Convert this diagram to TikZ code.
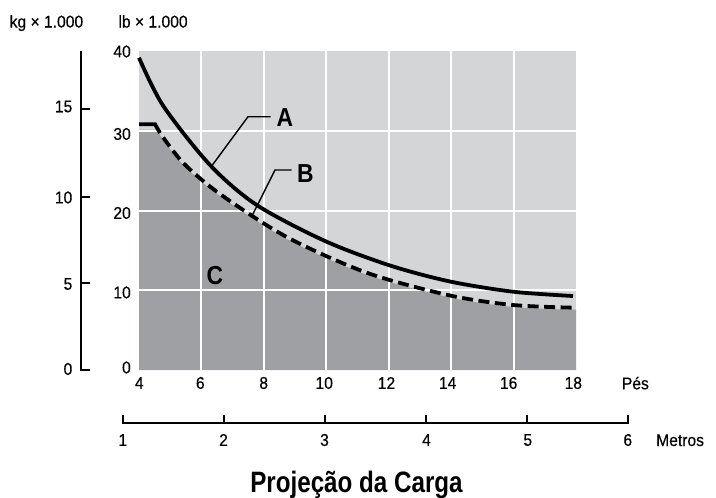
\documentclass[tikz,border=0pt]{standalone}
\usepackage{fontspec}
\setmainfont{Liberation Sans}[FakeStretch=0.92, FakeBold=0.35]
\newfontfamily\condbold{Liberation Sans}[FakeStretch=0.82]
\newfontfamily\letterbold{Liberation Sans}[FakeStretch=0.88]
\definecolor{lightg}{RGB}{212,213,215}
\definecolor{darkg}{RGB}{159,160,164}
\newcommand\lblfont{\fontsize{17}{20}\selectfont}
\newcommand\letterfont{\letterbold\bfseries\fontsize{26}{29}\selectfont}
\newcommand\titlefont{\condbold\bfseries\fontsize{29.5}{32}\selectfont}
\begin{document}
\begin{tikzpicture}[x=1pt,y=-1pt,
  lbl/.style={font=\lblfont, inner sep=0pt},
  letter/.style={font=\letterfont, inner sep=0pt},
  curvea/.style={line width=3.8pt, black},
  curveb/.style={line width=3.8pt, black},
  dashb/.style={line width=3.8pt, black, dash pattern=on 11pt off 5.5pt, dash phase=11pt},
  gridw/.style={white, line width=2pt},
  axisl/.style={line width=2pt, black},
  leader/.style={line width=1.4pt, black}]
\useasboundingbox (0,0) rectangle (716,498);

% plot area
\fill[lightg] (139,51) rectangle (576,370);
\fill[darkg] (139,370) -- (139,129.5) -- (157.5,129.5) -- plot[smooth] coordinates {
  (160,135) (183.3,165) (220,196) (286.7,239) (366.7,274.7) (450,297.5)
  (513,307) (573,309.7)} -- (576,309.7) -- (576,370) -- cycle;

% grid
\foreach \x in {201.4,263.9,326.3,388.7,451.2,513.6}
  \draw[gridw] (\x,51) -- (\x,370);
\foreach \y in {130.7,210.5,290.3}
  \draw[gridw] (139,\y) -- (576,\y);

% curve A
\draw[curvea] plot[smooth] coordinates {
  (139,57.7) (163,105.5) (210,165) (256.7,205) (325,241) (390,265.5)
  (450,281.5) (513,291.7) (573,296)};

% curve B
\draw[curveb] (139,124.2) -- (155,124.2) -- (160,133);
\draw[dashb] plot[smooth] coordinates {
  (160,133) (183.3,163) (220,194) (286.7,237) (366.7,272.7) (450,295.5)
  (513,305) (573,307.7)};

% labels A B C with leaders
\node[letter] (labA) at (285,117.5) {A};
\node[letter] (labB) at (305.5,174) {B};
\node[letter] (labC) at (215,276) {C};
\coordinate (Aend) at (211.7,166);
\coordinate (Aknee) at (248,116.7);
\coordinate (Ahz) at (270.5,116.7);
\coordinate (Bend) at (251.7,216.5);
\coordinate (Bknee) at (275,170);
\coordinate (Bhz) at (291.7,170);
\draw[leader] (Aend) -- (Aknee) -- (Ahz);
\draw[leader] (Bend) -- (Bknee) -- (Bhz);

% unit headers
\node[lbl, anchor=base west] (kgh) at (9.5,27.5) {kg × 1.000};
\node[lbl, anchor=base west] (lbh) at (118.3,27.5) {lb × 1.000};

% kg axis
\draw[axisl] (81,51) -- (81,369.5) -- (90,369.5);
\foreach \y in {109,196.7,283.3}
  \draw[axisl] (81,\y) -- (90,\y);
\node[lbl, anchor=east] (kg15) at (72.5,106.5) {15};
\node[lbl, anchor=east] (kg10) at (72.5,197.5) {10};
\node[lbl, anchor=east] (kg5) at (72.5,284) {5};
\node[lbl, anchor=east] (kg0) at (72.5,369) {0};

% lb labels
\node[lbl, anchor=east] (lb40) at (131,51.5) {40};
\node[lbl, anchor=east] (lb30) at (131,134) {30};
\node[lbl, anchor=east] (lb20) at (131,213) {20};
\node[lbl, anchor=east] (lb10) at (131,292.5) {10};
\node[lbl, anchor=east] (lb0) at (131,367.5) {0};

% feet labels
\foreach \x/\t in {139.3/4,200.3/6,263.7/8,324.2/10,386.5/12,447.7/14,508.7/16,573.3/18}
  \node[lbl] (ft\t) at (\x,383) {\t};
\node[lbl, anchor=base west] (pes) at (621.7,389.3) {Pés};

% meters axis
\draw[axisl] (123.3,414.5) -- (123.3,422.7) -- (628.3,422.7) -- (628.3,414.5);
\foreach \x in {224,325.3,426,527}
  \draw[axisl] (\x,422.7) -- (\x,414.5);
\foreach \x/\t in {122.8/1,223.5/2,324.5/3,426.5/4,527.8/5,627.8/6}
  \node[lbl] (m\t) at (\x,440) {\t};
\node[lbl, anchor=base west] (metros) at (656,446) {Metros};

% title
\node[font=\titlefont, inner sep=0pt, anchor=base] (title) at (356.5,492.5) {Projeção da Carga};
\end{tikzpicture}
\end{document}
